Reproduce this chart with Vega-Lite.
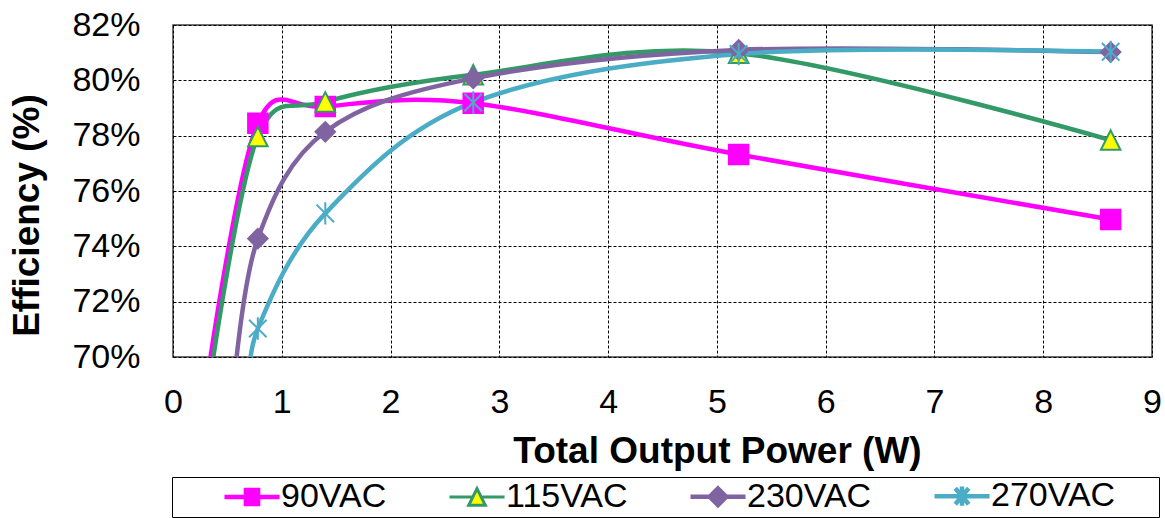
{
  "$schema": "https://vega.github.io/schema/vega-lite/v6.json",
  "width": 979,
  "height": 332,
  "autosize": {"type": "none"},
  "padding": {"left": 173, "top": 25, "right": 13, "bottom": 161},
  "background": "white",
  "config": {
    "font": "Liberation Sans",
    "view": {"stroke": "#404040", "strokeWidth": 1.5},
    "axis": {
      "domain": false,
      "ticks": false,
      "tickSize": 0,
      "grid": true,
      "gridColor": "#000000",
      "gridDash": [3, 2],
      "gridWidth": 1,
      "labelFont": "Liberation Sans",
      "labelFontSize": 34,
      "labelColor": "#000000",
      "titleFont": "Liberation Sans",
      "titleFontSize": 37,
      "titleFontWeight": "bold",
      "titleColor": "#000000"
    }
  },
  "data": {
    "values": [
      {"series": "90VAC", "power": 0.33, "eff": 69.6},
      {"series": "90VAC", "power": 0.78, "eff": 78.45},
      {"series": "90VAC", "power": 1.4, "eff": 79.05},
      {"series": "90VAC", "power": 2.76, "eff": 79.17},
      {"series": "90VAC", "power": 5.2, "eff": 77.32},
      {"series": "90VAC", "power": 8.62, "eff": 74.97},
      {"series": "115VAC", "power": 0.35, "eff": 69.45},
      {"series": "115VAC", "power": 0.78, "eff": 77.97},
      {"series": "115VAC", "power": 1.4, "eff": 79.22},
      {"series": "115VAC", "power": 2.76, "eff": 80.2},
      {"series": "115VAC", "power": 5.2, "eff": 80.98},
      {"series": "115VAC", "power": 8.62, "eff": 77.84},
      {"series": "230VAC", "power": 0.56, "eff": 69.0},
      {"series": "230VAC", "power": 0.78, "eff": 74.28},
      {"series": "230VAC", "power": 1.4, "eff": 78.14},
      {"series": "230VAC", "power": 2.76, "eff": 80.07},
      {"series": "230VAC", "power": 5.2, "eff": 81.1},
      {"series": "230VAC", "power": 8.62, "eff": 81.02},
      {"series": "270VAC", "power": 0.71, "eff": 68.6},
      {"series": "270VAC", "power": 0.78, "eff": 71.03},
      {"series": "270VAC", "power": 1.4, "eff": 75.19},
      {"series": "270VAC", "power": 2.76, "eff": 79.2},
      {"series": "270VAC", "power": 5.2, "eff": 80.95},
      {"series": "270VAC", "power": 8.62, "eff": 81.03}
    ]
  },
  "resolve": {"scale": {"stroke": "independent"}},
  "layer": [
    {
      "mark": {"type": "line", "interpolate": "cardinal", "strokeWidth": 4.5, "clip": true},
      "encoding": {
        "x": {
          "field": "power",
          "type": "quantitative",
          "scale": {"domain": [0, 9], "nice": false, "zero": false},
          "axis": {
            "values": [0, 1, 2, 3, 4, 5, 6, 7, 8, 9],
            "format": "d",
            "title": "Total Output Power (W)",
            "labelPadding": 28,
            "labelFlush": false,
            "titleX": 544,
            "titleY": 105,
            "titleBaseline": "alphabetic"
          }
        },
        "y": {
          "field": "eff",
          "type": "quantitative",
          "scale": {"domain": [70, 82], "nice": false, "zero": false},
          "axis": {
            "values": [70, 72, 74, 76, 78, 80, 82],
            "labelExpr": "datum.value + '%'",
            "labelPadding": 33,
            "labelFlush": false,
            "title": "Efficiency (%)",
            "titleAngle": 270,
            "titleX": -135,
            "titleY": 190,
            "titleBaseline": "alphabetic"
          }
        },
        "stroke": {
          "field": "series",
          "type": "nominal",
          "scale": {
            "domain": ["90VAC", "115VAC", "230VAC", "270VAC"],
            "range": ["#FF00FF", "#339966", "#8064A2", "#4BACC6"]
          },
          "legend": {
            "orient": "none",
            "legendX": -1,
            "legendY": 452,
            "direction": "horizontal",
            "columns": 4,
            "title": "\u00a0",
            "titleOrient": "right",
            "titlePadding": 42,
            "strokeColor": "#000000",
            "padding": 2,
            "symbolSize": 1024,
            "symbolOffset": 61,
            "labelOffset": 12,
            "columnPadding": 12,
            "labelFont": "Liberation Sans",
            "labelFontSize": 34,
            "labelColor": "#000000",
            "labelLimit": 400,
            "encode": {
              "symbols": {
                "update": {
                  "shape": {"signal": "datum.value === '90VAC' ? 'M-1.72,0H1.72M-0.38,-0.44H0.38V0.44H-0.38Z' : datum.value === '115VAC' ? 'M-1.72,0H-0.34M0.34,0H1.72M0,-0.52L0.52,0.52L-0.52,0.52Z' : datum.value === '230VAC' ? 'M-1.72,0H-0.5M0.5,0H1.72M0,-0.52L0.52,0L0,0.52L-0.52,0Z' : 'M-1.72,0H1.72M-0.42,-0.5L0.42,0.5M-0.42,0.5L0.42,-0.5M0,-0.6V0.6'"},
                  "fill": {"signal": "datum.value === '90VAC' ? '#FF00FF' : datum.value === '115VAC' ? '#FFFF00' : datum.value === '230VAC' ? '#8064A2' : 'transparent'"},
                  "stroke": {"signal": "datum.value === '90VAC' ? '#FF00FF' : datum.value === '115VAC' ? '#339966' : datum.value === '230VAC' ? '#8064A2' : '#4BACC6'"},
                  "strokeWidth": {"signal": "datum.value === '115VAC' ? 3 : 4.5"},
                  "opacity": {"value": 1}
                }
              }
            }
          }
        }
      }
    },
    {
      "mark": {"type": "point", "filled": true, "size": 380, "strokeWidth": 2, "opacity": 1, "clip": true},
      "encoding": {
        "x": {"field": "power", "type": "quantitative"},
        "y": {"field": "eff", "type": "quantitative"},
        "stroke": {
          "field": "series",
          "type": "nominal",
          "scale": {
            "domain": ["90VAC", "115VAC", "230VAC", "270VAC"],
            "range": ["#FF00FF", "#339966", "#8064A2", "#4BACC6"]
          },
          "legend": null
        },
        "fill": {
          "field": "series",
          "type": "nominal",
          "scale": {
            "domain": ["90VAC", "115VAC", "230VAC", "270VAC"],
            "range": ["#FF00FF", "#FFFF00", "#8064A2", "transparent"]
          },
          "legend": null
        },
        "shape": {
          "field": "series",
          "type": "nominal",
          "scale": {
            "domain": ["90VAC", "115VAC", "230VAC", "270VAC"],
            "range": ["square", "M0,-1L1,1L-1,1Z", "diamond", "M-0.9,-0.9L0.9,0.9M-0.9,0.9L0.9,-0.9M0,-1.15V1.15"]
          },
          "legend": null
        }
      }
    }
  ]
}
